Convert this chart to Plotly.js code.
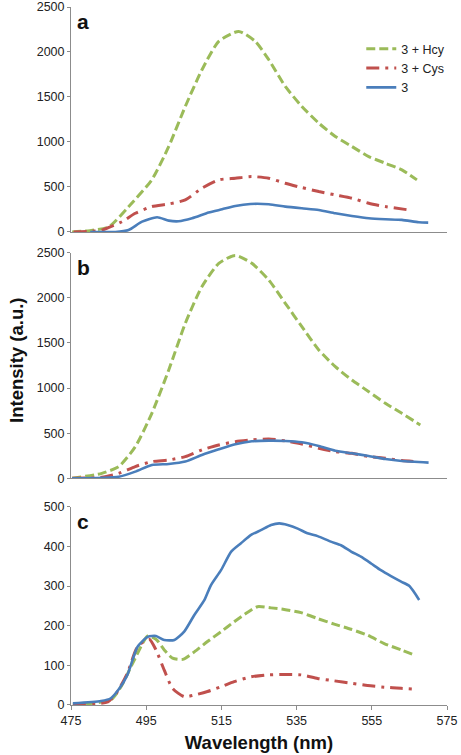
<!DOCTYPE html>
<html><head><meta charset="utf-8">
<script src="https://cdn.plot.ly/plotly-3.0.1.min.js"></script>
<style>html,body{margin:0;padding:0;background:#fff}#chart{width:461px;height:755px}</style>
</head><body><div id="chart"></div>
<script>
// Panel a
const aHcyX = [475.3,480,485,490.3,496.5,501,505.4,509.8,514.3,519.6,524,527.6,532,536.4,540.9,545.3,549.7,554.2,558.6,563,567];
const aHcyY = [0,15,55,280,580,950,1395,1800,2118,2229,2118,1914,1617,1395,1209,1061,950,838,764,690,579];
const aCysX = [475.7,480,483.2,488.6,492.1,496.5,501,505.4,509.8,514.3,518.7,523,527.6,532,536.4,540.9,545.3,549.7,554.2,558.6,564.8];
const aCysY = [0,8,20,115,208,282,311,356,486,579,597,616,597,541,493,449,412,375,319,282,245];
const a3X = [480.1,486.8,490.3,493.9,497.9,501,503.6,507.2,511.6,515.2,518.7,522.7,527.6,532,536.4,540.9,545.3,549.7,554.2,558.6,563,567.5,570];
const a3Y = [0,0,22,115,163,126,119,152,215,252,289,311,308,282,263,245,208,178,152,141,134,108,104];
// Panel b
const bHcyX = [475.3,483.2,487.7,492.1,496.5,501,505.4,509.8,514.3,518.7,523.1,527.6,532,536.4,540.9,545.3,549.7,554.2,558.6,563,567.9];
const bHcyY = [0,55,130,350,720,1200,1717,2123,2382,2470,2382,2197,1939,1680,1422,1237,1089,960,831,720,591];
const bCysX = [475.3,483.2,487.7,492.1,496.5,501,505.4,509.8,514.3,518.7,523.1,527.6,532,536.4,540.9,545.3,549.7,554.2,558.6,563,566.6];
const bCysY = [0,11,55,130,185,203,240,314,369,406,425,436,414,380,332,295,277,240,222,196,185];
const b3X = [475.3,487.7,492.1,496.5,501,505.4,509.8,514.3,518.7,523.1,527.6,532,536.4,540.9,545.3,549.7,554.2,558.6,563,570.1];
const b3Y = [0,18,74,148,159,185,258,321,377,410,417,414,399,358,306,277,247,214,192,174];
// Panel c
const cHcyX = [475.5,485.6,488.3,491.8,495.4,497.6,499.8,502,504.7,507.8,511.3,514.9,518.4,522,524.6,528.2,531.7,536.2,540.6,545,549.5,553.9,558.3,562.8,566.3];
const cHcyY = [0,13,46,113,174,166,139,118,115,134,160,185,210,234,248,245,241,233,218,204,191,176,155,139,126];
const cCysX = [475.5,484.8,487,490,492.7,495.8,497.6,499.8,502,505.1,507.8,511.3,514.9,518.4,522.9,527.3,531.7,536.2,540.6,545,549.5,553.9,558.3,562.8,566.3];
const cCysY = [0,8,29,80,147,166,139,88,42,21,25,34,46,59,71,76,77,76,67,61,55,49,45,42,40];
const c3X = [475.5,483,485.6,487.9,490,492.7,495.4,497.6,499.8,502.5,505.1,507.8,510.5,512.2,514.9,517.6,520.2,522.9,525.5,528.2,530.4,532.6,535.3,537.9,540.6,544.1,546.8,549.5,552.1,554.8,557.4,560.1,562.8,565,567.6];
const c3Y = [4,10,17,42,76,147,172,174,164,164,185,227,265,302,340,387,408,429,441,454,458,454,445,433,426,412,403,387,374,357,340,325,311,300,265];

const seriesNames = ['3 + Hcy','3 + Cys','3'];
const green = '#9BBB59', red = '#C0504D', blue = '#4A7EBB';
const lineHcy = {color: green, width: 3, dash: '9px,4px', shape: 'spline', smoothing: 0.6};
const lineCys = {color: red, width: 3, dash: '13px,6px,3px,6px', shape: 'spline', smoothing: 0.6};
const line3 = {color: blue, width: 2.6, shape: 'spline', smoothing: 0.6};

function tr(x, y, name, line, xa, ya, show) {
  return {x: x, y: y, name: name, type: 'scatter', mode: 'lines', line: line,
          xaxis: xa, yaxis: ya, showlegend: show, hoverinfo: 'skip'};
}
const data = [
  tr(aHcyX, aHcyY, seriesNames[0], lineHcy, 'x', 'y', true),
  tr(aCysX, aCysY, seriesNames[1], lineCys, 'x', 'y', true),
  tr(a3X, a3Y, seriesNames[2], line3, 'x', 'y', true),
  tr(bHcyX, bHcyY, seriesNames[0], lineHcy, 'x2', 'y2', false),
  tr(bCysX, bCysY, seriesNames[1], lineCys, 'x2', 'y2', false),
  tr(b3X, b3Y, seriesNames[2], line3, 'x2', 'y2', false),
  tr(cHcyX, cHcyY, seriesNames[0], lineHcy, 'x3', 'y3', false),
  tr(cCysX, cCysY, seriesNames[1], lineCys, 'x3', 'y3', false),
  tr(c3X, c3Y, seriesNames[2], line3, 'x3', 'y3', false)
];

const font = {family: 'Liberation Sans, Arial, sans-serif', size: 12, color: '#222'};
const axisLine = {showline: true, linecolor: '#8c8c8c', linewidth: 1, showgrid: false, zeroline: false};
function xax(anchor, labels) {
  return Object.assign({}, axisLine, {range: [475, 575], anchor: anchor,
    tickvals: [475,495,515,535,555,575], showticklabels: labels,
    ticks: labels ? 'outside' : '', ticklen: 4, tickcolor: '#8c8c8c', tickfont: {size: 12.5, color: '#222'}});
}
function yax(anchor, domain, range, dtick) {
  return Object.assign({}, axisLine, {domain: domain, range: range, anchor: anchor, dtick: dtick,
    ticks: 'outside', ticklen: 3, tickcolor: '#8c8c8c', tickfont: {size: 12.5, color: '#222'}});
}
const layout = {
  width: 461, height: 755,
  margin: {l: 71, r: 14, t: 7, b: 50},
  paper_bgcolor: '#fff', plot_bgcolor: '#fff',
  font: font,
  showlegend: true,
  legend: {x: 0.772, y: 0.961, xanchor: 'left', yanchor: 'top', bgcolor: 'rgba(0,0,0,0)',
           font: {size: 12.5, color: '#222'}, tracegroupgap: 0, itemwidth: 30},
  xaxis: xax('y', false),
  xaxis2: xax('y2', false),
  xaxis3: Object.assign(xax('y3', true), {title: {text: '<b>Wavelength (nm)</b>', font: {size: 18.5, color: '#111'}, standoff: 9}}),
  yaxis: yax('x', [0.6777, 1.0], [0, 2500], 500),
  yaxis2: yax('x2', [0.3248, 0.648], [0, 2500], 500),
  yaxis3: yax('x3', [0, 0.284], [0, 500], 100),
  annotations: [
    {xref: 'paper', yref: 'paper', x: 0.01, y: 0.998, xanchor: 'left', yanchor: 'top', text: '<b>a</b>', showarrow: false, font: {size: 21, color: '#111'}},
    {xref: 'paper', yref: 'paper', x: 0.01, y: 0.646, xanchor: 'left', yanchor: 'top', text: '<b>b</b>', showarrow: false, font: {size: 21, color: '#111'}},
    {xref: 'paper', yref: 'paper', x: 0.01, y: 0.282, xanchor: 'left', yanchor: 'top', text: '<b>c</b>', showarrow: false, font: {size: 21, color: '#111'}},
    {xref: 'paper', yref: 'paper', x: -0.147, y: 0.494, xanchor: 'center', yanchor: 'middle', textangle: -90, text: '<b>Intensity (a.u.)</b>', showarrow: false, font: {size: 18.5, color: '#111'}}
  ]
};
Plotly.newPlot('chart', data, layout, {staticPlot: true, displayModeBar: false});
</script></body></html>
